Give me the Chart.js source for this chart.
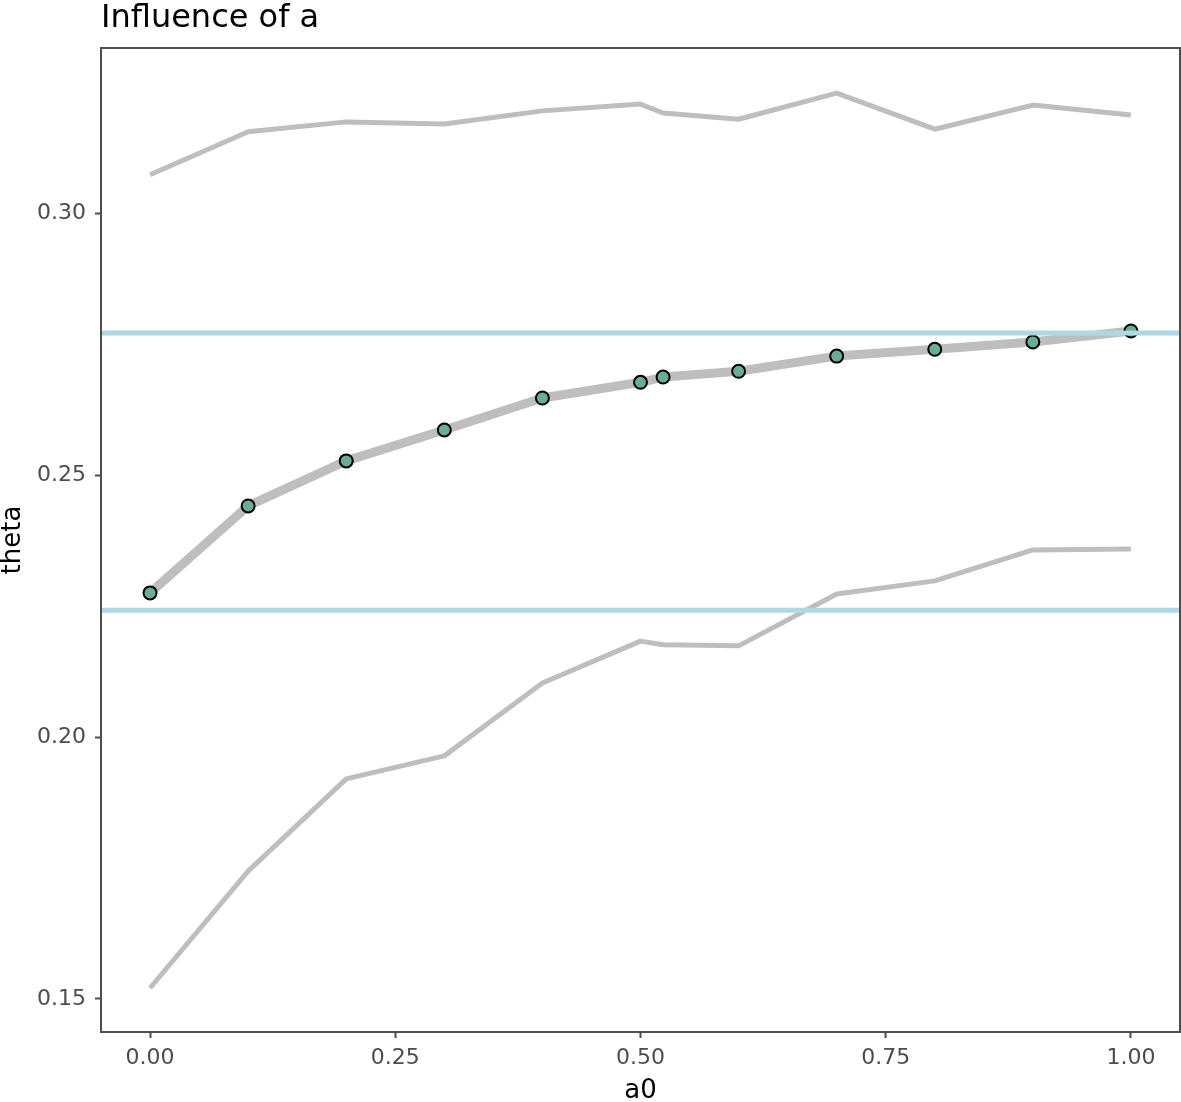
<!DOCTYPE html>
<html>
<head>
<meta charset="utf-8">
<script src="https://cdn.jsdelivr.net/npm/chart.js@4/dist/chart.umd.min.js"></script>
<style>
  html, body { margin: 0; padding: 0; background: #fff; }
</style>
</head>
<body>
<canvas id="chart" width="1181" height="1102"></canvas>
<script>
// values
var a0 = [0, 0.1, 0.2, 0.3, 0.4, 0.5, 0.523, 0.6, 0.7, 0.8, 0.9, 1.0];
var thetaMid = [0.2275, 0.2441, 0.2527, 0.2586, 0.2647, 0.2677, 0.2687, 0.2698, 0.2727, 0.2740, 0.2754, 0.2775];
var thetaUpper = [0.3073, 0.3155, 0.3174, 0.3170, 0.3195, 0.3208, 0.3191, 0.3179, 0.3229, 0.3160, 0.3206, 0.3187];
var thetaLower = [0.1521, 0.1744, 0.1920, 0.1964, 0.2103, 0.2183, 0.2176, 0.2174, 0.2273, 0.2298, 0.2357, 0.2359];
var refLines = [0.2771, 0.2242];
var xTicks = [0, 0.25, 0.5, 0.75, 1.0];
var yTicks = [0.15, 0.20, 0.25, 0.30];

var xMin = -0.05, xMax = 1.05;
var yMin = 0.1437, yMax = 0.3315;

var GRAY = '#bebebe';
var BLUE = '#add8e6';
var AXIS = '#4d4d4d';
var FONT = '"DejaVu Sans", sans-serif';

function pts(ys) {
  return a0.map(function (x, i) { return { x: x, y: ys[i] }; });
}

var datasets = [];
refLines.forEach(function (v) {
  datasets.push({
    data: [{ x: xMin, y: v }, { x: xMax, y: v }],
    borderColor: BLUE, borderWidth: 5, pointRadius: 0, showLine: true, order: 0
  });
});
datasets.push({
  data: pts(thetaMid), borderColor: GRAY, borderWidth: 9, showLine: true,
  pointRadius: 6.5, pointBackgroundColor: '#69ad99', pointBorderColor: '#000',
  pointBorderWidth: 2, order: 1
});
datasets.push({ data: pts(thetaUpper), borderColor: GRAY, borderWidth: 5, pointRadius: 0, showLine: true, order: 2 });
datasets.push({ data: pts(thetaLower), borderColor: GRAY, borderWidth: 5, pointRadius: 0, showLine: true, order: 2 });

// panel border + left-aligned title
var frame = {
  id: 'frame',
  afterDraw: function (chart) {
    var c = chart.ctx, a = chart.chartArea;
    c.save();
    c.strokeStyle = AXIS;
    c.lineWidth = 2;
    c.strokeRect(a.left, a.top, a.right - a.left, a.bottom - a.top);
    c.fillStyle = '#000';
    c.font = '32px ' + FONT;
    c.textAlign = 'left';
    c.textBaseline = 'alphabetic';
    c.fillText('Influence of a', a.left, 27);
    c.restore();
  }
};

new Chart(document.getElementById('chart'), {
  type: 'scatter',
  data: { datasets: datasets },
  plugins: [frame],
  options: {
    responsive: false,
    animation: false,
    layout: { autoPadding: false, padding: { top: 48, right: 1, left: 0, bottom: 0 } },
    plugins: { legend: { display: false }, tooltip: { enabled: false } },
    elements: { line: { tension: 0, borderCapStyle: 'butt', borderJoinStyle: 'round' } },
    scales: {
      x: {
        type: 'linear', min: xMin, max: xMax,
        afterBuildTicks: function (s) { s.ticks = xTicks.map(function (v) { return { value: v }; }); },
        afterFit: function (s) { s.height = 70; s.paddingLeft = 0; s.paddingRight = 0; },
        border: { display: false },
        grid: { drawOnChartArea: false, drawTicks: true, tickLength: 6, tickWidth: 2, color: AXIS },
        ticks: { color: AXIS, font: { family: FONT, size: 22 }, padding: 7, maxRotation: 0,
          callback: function (v) { return v.toFixed(2); } },
        title: { display: true, text: 'a0', color: '#000', font: { family: FONT, size: 26, lineHeight: 0.85 }, padding: 0 }
      },
      y: {
        type: 'linear', min: yMin, max: yMax,
        afterBuildTicks: function (s) { s.ticks = yTicks.map(function (v) { return { value: v }; }); },
        afterFit: function (s) { s.width = 101; s.paddingTop = 0; s.paddingBottom = 0; },
        border: { display: false },
        grid: { drawOnChartArea: false, drawTicks: true, tickLength: 6, tickWidth: 2, color: AXIS },
        ticks: { color: AXIS, font: { family: FONT, size: 22 }, padding: 9,
          callback: function (v) { return v.toFixed(2); } },
        title: { display: true, text: 'theta', color: '#000', font: { family: FONT, size: 26, lineHeight: 1 }, padding: 0 }
      }
    }
  }
});
</script>
</body>
</html>
